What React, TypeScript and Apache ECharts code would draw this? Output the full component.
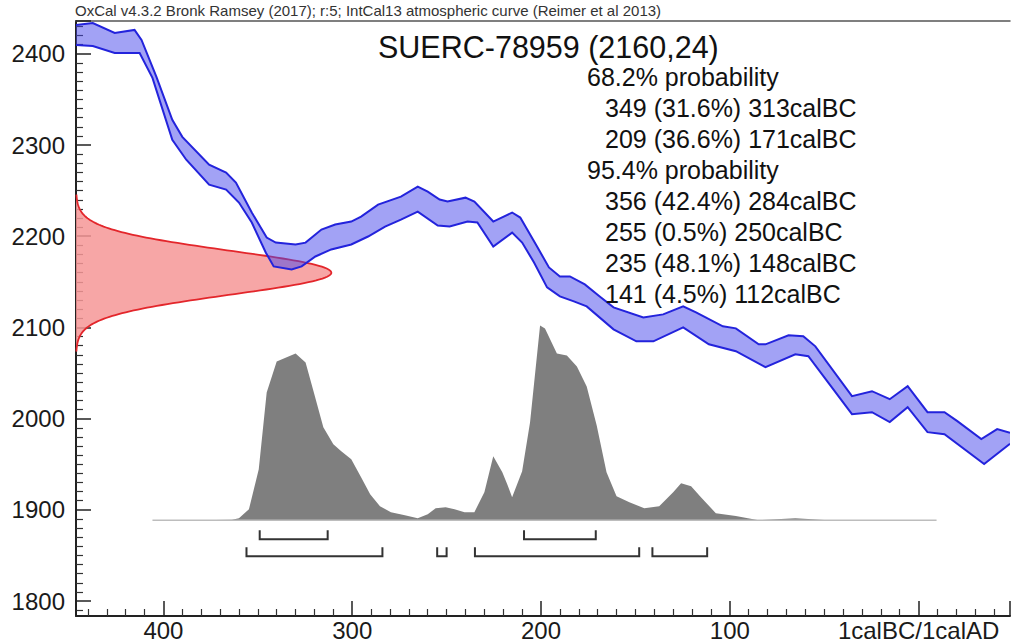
import { useEffect, useRef } from "react";
import * as echarts from "echarts";

// IntCal13 calibration curve envelope (calBC year, 14C BP): upper and lower 1-sigma edges
const CURVE_UPPER: number[][] = [
  [446.3, 2431.6], [437.4, 2433.8], [425.8, 2422.9], [415.3, 2426.2], [411.6, 2415.2],
  [403.7, 2374.7], [395.3, 2327.7], [390, 2309], [375.8, 2278.5], [366.8, 2269.7],
  [361.6, 2258.8], [353.2, 2226], [345.3, 2198.6], [340.5, 2193.1], [330, 2191],
  [324.7, 2193], [316.3, 2207.3], [309, 2212.8], [300.5, 2216.1], [295.3, 2221.6],
  [286.3, 2234.7], [274.2, 2243.4], [265.3, 2254.4], [260, 2248.9], [253.7, 2240.2],
  [249.5, 2238], [240, 2242.3], [235.3, 2238], [225.3, 2216.1], [215.3, 2226],
  [211, 2220.5], [202.1, 2188.7], [195.8, 2165.8], [190, 2155.9], [184.7, 2155.9],
  [176.8, 2147.2], [168.9, 2134], [161.6, 2122], [145.8, 2111], [135.3, 2114.3],
  [124.7, 2123.1], [117.9, 2116.5], [103.7, 2101.2], [96.8, 2099], [84.7, 2081.5],
  [81.1, 2081.5], [68.9, 2091.4], [61.1, 2090.3], [54.7, 2079.3], [35.3, 2024.6],
  [24.7, 2030.1], [15.3, 2021.3], [5.8, 2035.6], [-4.7, 2007.1], [-13.7, 2007.1],
  [-20.5, 1997.3], [-33.2, 1977.6], [-41.6, 1988.5], [-48.4, 1984.5],
];

const CURVE_LOWER: number[][] = [
  [446.3, 2409.7], [437.4, 2408.6], [425.8, 2401], [415.3, 2401], [412.6, 2401],
  [405.8, 2373.6], [395.3, 2305.8], [387.9, 2283.9], [375.8, 2256.6], [366.8, 2251.1],
  [360, 2236.9], [353.2, 2215], [345.8, 2182.2], [341.6, 2166.9], [332.1, 2163.6],
  [326.8, 2166.9], [319.5, 2177.8], [311.1, 2185.5], [300.5, 2191], [291.6, 2199.7],
  [282.6, 2210.6], [274.2, 2218.3], [265.3, 2227], [254.7, 2211.7], [248.4, 2210.6],
  [238.9, 2216.1], [233.7, 2215], [225.3, 2188.7], [215.3, 2204], [210, 2193.1],
  [203.7, 2171.2], [196.8, 2143.9], [190, 2134], [182.6, 2128.6], [175.8, 2123.1],
  [161.6, 2097.9], [149.5, 2084.8], [140.5, 2084.8], [124.7, 2100.1], [111.1, 2081.5],
  [96.8, 2073.9], [81.1, 2056.4], [65.3, 2070.6], [58.4, 2068.4], [35.3, 2004.9],
  [24.7, 2007.1], [15.3, 1996.2], [5.8, 2012.6], [-4.7, 1985.2], [-13.7, 1983],
  [-34.7, 1950.2], [-48.4, 1972.5],
];

// Calibrated date distribution (calBC year, relative probability)
const POSTERIOR: number[][] = [
  [405.8, 0], [381, 0], [363.7, 0.2], [360, 1], [354.7, 5.6], [349.5, 26.2],
  [345.3, 65.6], [340, 81.5], [330, 85.6], [324.7, 81], [320.5, 66.2], [315.3, 47.7],
  [310, 39], [305.8, 35.4], [300.5, 31.3], [295.3, 22], [290.5, 13.3], [285.3, 7.2],
  [279.5, 4.1], [272.1, 2.6], [265.3, 1], [260, 3.1], [255.8, 6.2], [250.5, 6.7],
  [245.8, 5.6], [240.5, 4.1], [235.3, 4.1], [230, 14.4], [225.3, 32.8], [220.5, 24.6],
  [217.9, 18.5], [215.3, 11.8], [210, 25.1], [205.8, 50.3], [200.5, 100], [197.9, 98.5],
  [191.6, 85.6], [186.3, 84.6], [181, 78.9], [175.8, 68.7], [170.5, 48.7], [165.3, 24.6],
  [160, 12.3], [153.2, 9.2], [145.3, 6.2], [137.4, 7.2], [130, 14.4], [125.8, 19],
  [120.5, 17.4], [115.3, 11.8], [107.4, 3.6], [96.8, 2.1], [84.7, 0], [65.3, 1],
  [56.3, 0.5], [47.9, 0], [-9.5, 0],
];

// Highest probability density ranges (from, to) in calBC
const RANGES_68: number[][] = [[349, 313], [209, 171]];
const RANGES_95: number[][] = [[356, 284], [255, 250], [235, 148], [141, 112]];

// Radiocarbon measurement: 14C age and its error
const LAB_CODE = "SUERC-78959";
const C14_AGE = 2160;
const C14_ERROR = 24;

const CAPTION =
  "OxCal v4.3.2 Bronk Ramsey (2017); r:5; IntCal13 atmospheric curve (Reimer et al 2013)";
const SUMMARY_LINES: string[][] = [
  ["68.2% probability", "head"],
  ["349 (31.6%) 313calBC", "row"],
  ["209 (36.6%) 171calBC", "row"],
  ["95.4% probability", "head"],
  ["356 (42.4%) 284calBC", "row"],
  ["255 (0.5%) 250calBC", "row"],
  ["235 (48.1%) 148calBC", "row"],
  ["141 (4.5%) 112calBC", "row"],
];

const FONT = '"Liberation Sans", Arial, Helvetica, sans-serif';

// Normal density of the measurement, sampled over +/- 3.6 sigma
function measurementOutline(): number[][] {
  const pts: number[][] = [];
  const lo = C14_AGE - 3.6 * C14_ERROR;
  const hi = C14_AGE + 3.6 * C14_ERROR;
  for (let c = lo; c <= hi + 1e-9; c += 1) {
    const z = (c - C14_AGE) / C14_ERROR;
    pts.push([Math.exp(-0.5 * z * z), c]);
  }
  return pts;
}

export default function App() {
  const ref = useRef<HTMLDivElement>(null);

  useEffect(() => {
    if (!ref.current) return;
    const chart = echarts.init(ref.current, null, { renderer: "svg" });
    const redPts = measurementOutline();
    const RED_PEAK = 257 / 940; // share of the plot width used by the measurement peak

    const option: any = {
      animation: false,
      backgroundColor: "#ffffff",
      grid: { left: 76, right: -3, top: 21, bottom: 25, containLabel: false },
      xAxis: [
        {
          type: "value",
          inverse: true,
          min: -48.4,
          max: 446.3,
          minInterval: 100,
          maxInterval: 100,
          position: "bottom",
          axisLine: { show: true, onZero: false, lineStyle: { color: "#222", width: 2 } },
          axisTick: { show: true, inside: true, length: 15, lineStyle: { color: "#222", width: 1.5 } },
          minorTick: { show: true, splitNumber: 10, length: 7, lineStyle: { color: "#333", width: 1.2 } },
          axisLabel: {
            margin: 2,
            color: "#1a1a1a",
            fontSize: 24,
            fontFamily: FONT,
            formatter: (v: number) => {
              const r = Math.round(v);
              if (Math.abs(v - r) > 1e-6 || r % 100 !== 0) return "";
              return r === 0 ? "1calBC/1calAD" : String(r);
            },
          },
          splitLine: { show: false },
          minorSplitLine: { show: false },
        },
        {
          type: "value",
          min: 0,
          max: 1,
          position: "top",
          axisLine: { show: true, onZero: false, lineStyle: { color: "#555", width: 1.5 } },
          axisTick: { show: false },
          axisLabel: { show: false },
          splitLine: { show: false },
        },
      ],
      yAxis: [
        {
          type: "value",
          min: 1783.6,
          max: 2436,
          minInterval: 100,
          maxInterval: 100,
          position: "left",
          axisLine: { show: true, onZero: false, lineStyle: { color: "#222", width: 2 } },
          axisTick: { show: true, inside: true, length: 15, lineStyle: { color: "#222", width: 1.5 } },
          minorTick: { show: true, splitNumber: 10, length: 7, lineStyle: { color: "#333", width: 1.2 } },
          axisLabel: {
            margin: 11,
            color: "#1a1a1a",
            fontSize: 24,
            fontFamily: FONT,
            formatter: (v: number) => {
              const r = Math.round(v);
              if (Math.abs(v - r) > 1e-6 || r % 100 !== 0) return "";
              return String(r);
            },
          },
          splitLine: { show: false },
          minorSplitLine: { show: false },
        },
        {
          type: "value",
          min: -49.2,
          max: 256.4,
          show: false,
          splitLine: { show: false },
        },
      ],
      series: [
        {
          // calibrated distribution
          type: "custom",
          xAxisIndex: 0,
          yAxisIndex: 1,
          data: POSTERIOR,
          encode: { x: 0, y: 1 },
          renderItem: (params: any, api: any) => {
            if (params.dataIndex !== 0) return null;
            const pts = POSTERIOR.map((p) => api.coord(p));
            const first = api.coord([POSTERIOR[0][0], 0]);
            const last = api.coord([POSTERIOR[POSTERIOR.length - 1][0], 0]);
            return {
              type: "group",
              children: [
                { type: "polygon", shape: { points: pts }, style: { fill: "#7f7f7f", stroke: null } },
                {
                  type: "line",
                  shape: { x1: first[0], y1: first[1], x2: last[0], y2: last[1] },
                  style: { stroke: "#bdbdbd", lineWidth: 1.5 },
                },
              ],
            };
          },
          z: 2,
        },
        {
          // highest probability density brackets
          type: "custom",
          xAxisIndex: 0,
          yAxisIndex: 1,
          data: [...RANGES_68.map((r) => [r[0], r[1], 0]), ...RANGES_95.map((r) => [r[0], r[1], 1])],
          encode: { x: [0, 1] },
          renderItem: (params: any, api: any) => {
            const a = api.coord([api.value(0), 0]);
            const b = api.coord([api.value(1), 0]);
            const row = api.value(2);
            const y = a[1] + 19 + row * 17;
            return {
              type: "polyline",
              shape: { points: [[a[0], y - 9], [a[0], y], [b[0], y], [b[0], y - 9]] },
              style: { stroke: "#333", lineWidth: 2, fill: null },
            };
          },
          z: 3,
        },
        {
          // measurement probability on the radiocarbon axis
          type: "custom",
          xAxisIndex: 1,
          yAxisIndex: 0,
          data: [[0, C14_AGE]],
          renderItem: (params: any, api: any) => {
            const curve = redPts.map((p) => api.coord([p[0] * RED_PEAK, p[1]]));
            const base0 = api.coord([0, redPts[0][1]]);
            const base1 = api.coord([0, redPts[redPts.length - 1][1]]);
            return {
              type: "group",
              children: [
                {
                  type: "polygon",
                  shape: { points: [base0, ...curve, base1] },
                  style: { fill: "rgba(246,150,150,0.85)", stroke: null },
                },
                {
                  type: "polyline",
                  shape: { points: curve },
                  style: { stroke: "#e3262b", lineWidth: 1.8, fill: null },
                },
              ],
            };
          },
          z: 4,
        },
        {
          // calibration curve band
          type: "custom",
          xAxisIndex: 0,
          yAxisIndex: 0,
          data: CURVE_UPPER,
          encode: { x: 0, y: 1 },
          clip: true,
          renderItem: (params: any, api: any) => {
            if (params.dataIndex !== 0) return null;
            const up = CURVE_UPPER.map((p) => api.coord(p));
            const lo = CURVE_LOWER.map((p) => api.coord(p));
            return {
              type: "group",
              children: [
                {
                  type: "polygon",
                  shape: { points: [...up, ...lo.slice().reverse()] },
                  style: { fill: "rgba(70,70,235,0.5)", stroke: null },
                },
                { type: "polyline", shape: { points: up }, style: { stroke: "#2323dc", lineWidth: 2, fill: null } },
                { type: "polyline", shape: { points: lo }, style: { stroke: "#2323dc", lineWidth: 2, fill: null } },
              ],
            };
          },
          z: 5,
        },
      ],
      graphic: [
        {
          type: "text",
          left: 75,
          top: 3,
          z: 10,
          style: { text: CAPTION, font: `15px ${FONT}`, fill: "#333" },
        },
        {
          type: "text",
          x: 378,
          y: 47,
          z: 10,
          style: {
            text: `${LAB_CODE} (${C14_AGE},${C14_ERROR})`,
            font: `30.5px ${FONT}`,
            fill: "#111",
            textAlign: "left",
            textVerticalAlign: "middle",
            align: "left",
            verticalAlign: "middle",
          },
        },
        ...SUMMARY_LINES.map((l, i) => ({
          type: "text",
          x: l[1] === "head" ? 587 : 605,
          y: 77 + i * 31,
          z: 10,
          style: {
            text: l[0],
            font: `25px ${FONT}`,
            fill: "#111",
            textAlign: "left",
            textVerticalAlign: "middle",
            align: "left",
            verticalAlign: "middle",
          },
        })),
      ],
    };

    chart.setOption(option);
    return () => chart.dispose();
  }, []);

  return (
    <div
      ref={ref}
      style={{ position: "absolute", left: 0, top: 0, width: 1013, height: 642, background: "#fff" }}
    />
  );
}
